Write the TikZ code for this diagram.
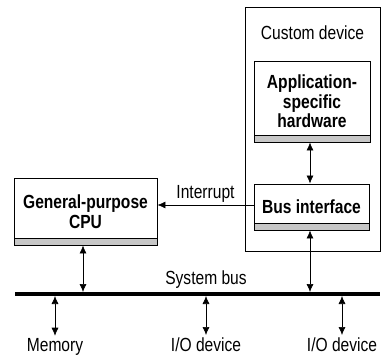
\documentclass[tikz,border=0pt]{standalone}
\usepackage{fontspec}
\setmainfont{Liberation Sans}[FakeStretch=0.82]
\usetikzlibrary{arrows.meta, positioning}

\begin{document}
\begin{tikzpicture}[x = 1pt, y = -1pt,
        font = \fontsize{19}{20}\selectfont,
        unit/.style = {draw, line width = 0.9pt, font = \fontsize{19}{19.5}\selectfont\bfseries,
            align = center, inner sep = 0pt,
            path picture = {
                \fill[black!22] ([yshift = 7pt]path picture bounding box.south west)
                    rectangle (path picture bounding box.south east);
                \draw[line width = 0.6pt] ([yshift = 7pt]path picture bounding box.south west)
                    -- ([yshift = 7pt]path picture bounding box.south east);}},
        biarrow/.style = {{Latex[length = 8pt, width = 7pt]}-{Latex[length = 8pt, width = 7pt]}, line width = 0.6pt}]
    \useasboundingbox (0,0) rectangle (383,356);
    % custom device
    \node[draw, line width = 0.9pt, minimum width = 135pt, minimum height = 244pt] (dev) at (312.5,129) {};
    \node (devname) at (312.5,33) {Custom device};
    \node[unit, minimum width = 116pt, minimum height = 81pt] (asic) at (312,101.5) {Application-\\specific\\hardware};
    \node[unit, minimum width = 115pt, minimum height = 46pt] (bif) at (311.5,207) {Bus interface};
    \node[unit, minimum width = 143pt, minimum height = 67pt] (cpu) at (85.5,211.5) {General-purpose\\CPU};
    \draw[biarrow] (asic.south -| 310,0) -- (bif.north -| 310,0);
    \draw[-{Latex[length = 8pt, width = 7pt]}, line width = 0.6pt] (bif.west |- 0,205) -- (cpu.east |- 0,205)
        node[midway, above = -1pt] (irq) {Interrupt};
    % system bus
    \coordinate (busL) at (15,294);
    \coordinate (busR) at (380,294);
    \draw[line width = 4pt] (busL) -- (busR);
    \node (busname) at (206,280) {System bus};
    \draw[biarrow, shorten > = 2pt] (cpu.south -| 83,0) -- (busL -| 83,0);
    \draw[biarrow, shorten > = 2pt] (bif.south -| 310,0) -- (busL -| 310,0);
    \foreach \x/\name/\txt in {55/mem/Memory, 206/ioa/{I/O device}, 342/iob/{I/O device}} {
        \node[anchor = base, inner sep = 2pt] (\name) at (\x,351) {\txt};
        \draw[biarrow, shorten < = 2pt] (busL -| \x,0) -- (\name.north);
    }
\end{tikzpicture}
\end{document}
